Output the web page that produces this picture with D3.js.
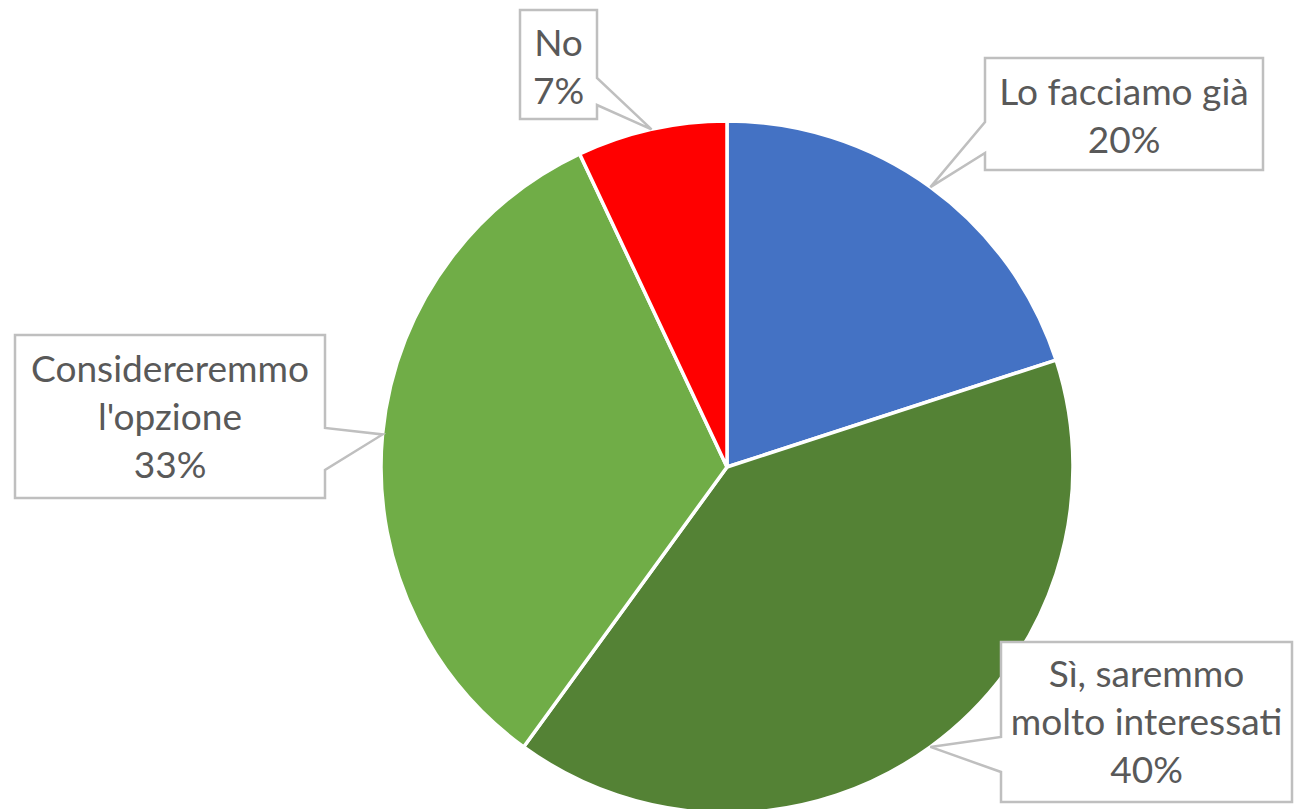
<!DOCTYPE html>
<html>
<head>
<meta charset="utf-8">
<script src="https://cdn.jsdelivr.net/npm/d3@7"></script>
<style>
  html, body { margin: 0; padding: 0; background: #ffffff; }
  svg { display: block; }
</style>
</head>
<body>
<svg id="chart" width="1295" height="809"></svg>
<script>
// Survey answers, clockwise from 12 o'clock
const categories = ["Lo facciamo già", "Sì, saremmo molto interessati", "Considereremmo l'opzione", "No"];
const values = [20, 40, 33, 7];
const labelLines = [
  ["Lo facciamo già", "20%"],
  ["Sì, saremmo", "molto interessati", "40%"],
  ["Considereremmo", "l'opzione", "33%"],
  ["No", "7%"]
];
const colors = ["#4472C4", "#548235", "#70AD47", "#FF0000"];

// Callout boxes: rectangle, side the pointer leaves from, and the two points on that side
const callouts = [
  { x0: 985, y0: 58, x1: 1263, y1: 170, side: "left", p1: 122, p2: 153, baseline: 105 },
  { x0: 1001, y0: 642, x1: 1292, y1: 802, side: "left", p1: 737, p2: 772, baseline: 687 },
  { x0: 15, y0: 335, x1: 325, y1: 498, side: "right", p1: 428, p2: 470, baseline: 382 },
  { x0: 520, y0: 10, x1: 597, y1: 119, side: "right", p1: 78, p2: 105, baseline: 56 }
];

const svg = d3.select("#chart");
const cx = 727, cy = 467, radius = 346;
const lineHeight = 48;

const pie = d3.pie().sort(null).value(d => d)(values);
const arc = d3.arc().innerRadius(0).outerRadius(radius);

const g = svg.append("g").attr("transform", `translate(${cx},${cy})`);
g.selectAll("path.slice")
  .data(pie)
  .join("path")
  .attr("class", "slice")
  .attr("d", arc)
  .attr("fill", (d, i) => colors[i])
  .attr("stroke", "#ffffff")
  .attr("stroke-width", 3.5)
  .attr("stroke-linejoin", "round");

// Font size chosen so the longest word fits its box like the original layout
const probe = svg.append("text").attr("font-family", "Lato, 'Noto Sans', sans-serif")
  .attr("font-size", 40).text("Considereremmo");
const w40 = probe.node().getComputedTextLength();
probe.remove();
const fontSize = 40 * 278 / w40;

const labels = svg.append("g");
pie.forEach((d, i) => {
  const c = callouts[i];
  const mid = (d.startAngle + d.endAngle) / 2;
  const tx = cx + radius * Math.sin(mid);
  const ty = cy - radius * Math.cos(mid);
  let pts;
  if (c.side === "left") {
    pts = [[c.x0, c.y0], [c.x1, c.y0], [c.x1, c.y1], [c.x0, c.y1], [c.x0, c.p2], [tx, ty], [c.x0, c.p1]];
  } else {
    pts = [[c.x0, c.y0], [c.x1, c.y0], [c.x1, c.p1], [tx, ty], [c.x1, c.p2], [c.x1, c.y1], [c.x0, c.y1]];
  }
  labels.append("path")
    .attr("d", d3.line()(pts) + "Z")
    .attr("fill", "#ffffff")
    .attr("stroke", "#BFBFBF")
    .attr("stroke-width", 2.5)
    .attr("stroke-linejoin", "miter");

  const t = labels.append("text")
    .attr("font-family", "Lato, 'Noto Sans', sans-serif")
    .attr("font-size", fontSize)
    .attr("fill", "#595959")
    .attr("text-anchor", "middle");
  labelLines[i].forEach((line, k) => {
    t.append("tspan")
      .attr("x", (c.x0 + c.x1) / 2)
      .attr("y", c.baseline + k * lineHeight)
      .text(line);
  });
});
</script>
</body>
</html>
